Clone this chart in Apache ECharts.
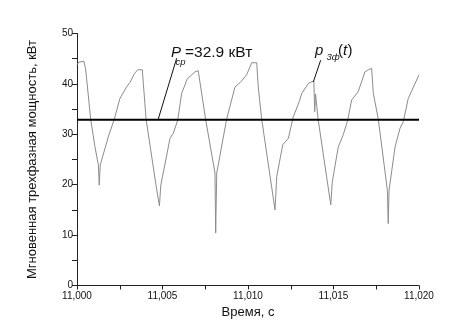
<!DOCTYPE html>
<html>
<head>
<meta charset="utf-8">
<script src="https://cdn.jsdelivr.net/npm/echarts@6/dist/echarts.min.js"></script>
<style>
  html, body { margin: 0; padding: 0; background: #fff; }
  #chart { width: 454px; height: 329px; }
</style>
</head>
<body>
<div id="chart"></div>
<script>
// Instantaneous three-phase power, sampled time (s) and value (kW)
var timeS = [
  11000.00, 11000.10, 11000.20, 11000.40, 11000.50, 11000.57, 11000.80, 11001.05, 11001.25, 11001.30,
  11001.36, 11001.42, 11001.83, 11002.18, 11002.51, 11002.90, 11003.10, 11003.35, 11003.55, 11003.82,
  11003.88, 11003.92, 11004.04, 11004.62, 11004.82, 11004.90, 11005.44, 11005.63, 11005.89, 11006.12,
  11006.45, 11006.90, 11007.09, 11007.19, 11007.52, 11008.07, 11008.11, 11008.17, 11008.75, 11009.24,
  11009.55, 11009.92, 11010.22, 11010.51, 11010.60, 11010.80, 11011.58, 11011.68, 11012.03, 11012.36,
  11012.65, 11013.00, 11013.14, 11013.53, 11013.85, 11013.90, 11013.95, 11014.10, 11014.84, 11014.93,
  11015.28, 11015.57, 11015.83, 11016.06, 11016.45, 11016.84, 11017.04, 11017.23, 11017.33, 11017.62,
  11018.15, 11018.20, 11018.25, 11018.60, 11018.89, 11019.08, 11019.37, 11020.00
];
var powerKW = [
  43.8, 44.3, 44.6, 44.5, 43.0, 40.8, 33.0, 27.5, 23.9, 19.9,
  23.9, 24.1, 29.5, 33.0, 37.1, 39.4, 40.3, 42.0, 42.8, 42.8,
  40.0, 38.3, 33.0, 19.9, 15.8, 19.9, 29.2, 30.2, 32.8, 38.1,
  41.0, 42.4, 42.6, 42.4, 33.0, 22.3, 10.4, 22.3, 33.0, 39.4,
  40.3, 41.8, 44.2, 44.2, 39.4, 33.0, 15.0, 21.6, 27.9, 29.2,
  33.5, 36.5, 38.1, 40.1, 40.6, 34.5, 38.0, 33.0, 16.0, 20.6,
  27.5, 29.9, 32.8, 36.8, 38.5, 42.4, 42.8, 43.1, 38.1, 33.0,
  18.9, 12.3, 18.9, 27.5, 31.2, 32.5, 37.1, 41.8
];

// Mean power level
var meanPower = 32.9;
var timeRange = [11000, 11020];

// Leader lines from the labels to the curves (time, kW)
var meanLeader = [[11005.83, 45.1], [11004.75, 33.0]];
var curveLeader = [[11014.25, 44.7], [11013.82, 40.4]];

var FONT = 'Liberation Sans, Arial, sans-serif';

function thousands(v) {
  return String(Math.round(v)).replace(/\B(?=(\d{3})+(?!\d))/g, ',');
}

var chart = echarts.init(document.getElementById('chart'), null, { renderer: 'canvas' });

var curve = timeS.map(function (t, i) { return [t, powerKW[i]]; });

chart.setOption({
  animation: false,
  backgroundColor: '#ffffff',
  grid: { left: 77, right: 35, top: 33.5, bottom: 43.5 },
  xAxis: {
    type: 'value',
    min: timeRange[0],
    max: timeRange[1],
    interval: 5,
    name: 'Время, с',
    nameLocation: 'middle',
    nameGap: 19,
    nameTextStyle: { fontFamily: FONT, fontSize: 13, color: '#111' },
    axisLine: { onZero: false, lineStyle: { color: '#222', width: 1 } },
    axisTick: { show: true, length: 4, lineStyle: { color: '#222' } },
    minorTick: { show: true, splitNumber: 2, length: 4, lineStyle: { color: '#222' } },
    splitLine: { show: false },
    axisLabel: { fontFamily: FONT, fontSize: 10, color: '#111', margin: 6, formatter: thousands }
  },
  yAxis: {
    type: 'value',
    min: 0,
    max: 50,
    interval: 10,
    name: 'Мгновенная трехфазная мощность, кВт',
    nameLocation: 'middle',
    nameGap: 38,
    nameTextStyle: { fontFamily: FONT, fontSize: 13, color: '#111' },
    axisLine: { show: true, lineStyle: { color: '#222', width: 1 } },
    axisTick: { show: true, length: 5, lineStyle: { color: '#222' } },
    minorTick: { show: true, splitNumber: 2, length: 5, lineStyle: { color: '#222' } },
    splitLine: { show: false },
    axisLabel: { fontFamily: FONT, fontSize: 10, color: '#111', margin: 4 }
  },
  series: [
    {
      type: 'line',
      data: curve,
      showSymbol: false,
      lineStyle: { color: '#8c8c8c', width: 1 },
      z: 2
    },
    {
      type: 'line',
      data: [[timeRange[0], meanPower], [timeRange[1], meanPower]],
      showSymbol: false,
      lineStyle: { color: '#000', width: 2 },
      z: 3
    },
    {
      type: 'line',
      data: meanLeader,
      showSymbol: false,
      lineStyle: { color: '#111', width: 1 },
      z: 4
    },
    {
      type: 'line',
      data: curveLeader,
      showSymbol: false,
      lineStyle: { color: '#111', width: 1 },
      z: 4
    }
  ],
  graphic: [
    { type: 'text', left: 171, top: 45, style: { text: 'P', fontFamily: FONT, fontSize: 15, fontStyle: 'italic', fill: '#111' } },
    { type: 'text', left: 175.5, top: 57, style: { text: 'ср', fontFamily: FONT, fontSize: 9.5, fontStyle: 'italic', fill: '#111' } },
    { type: 'text', left: 185, top: 45, style: { text: '=32.9 кВт', fontFamily: FONT, fontSize: 15.5, fill: '#111' } },
    { type: 'text', left: 315, top: 43, style: { text: 'p', fontFamily: FONT, fontSize: 15, fontStyle: 'italic', fill: '#111' } },
    { type: 'text', left: 326.5, top: 52, style: { text: '3ф', fontFamily: FONT, fontSize: 9.5, fontStyle: 'italic', fill: '#111' } },
    { type: 'text', left: 338, top: 43, style: { text: '(', fontFamily: FONT, fontSize: 15, fill: '#111' } },
    { type: 'text', left: 343, top: 43, style: { text: 't', fontFamily: FONT, fontSize: 15, fontStyle: 'italic', fill: '#111' } },
    { type: 'text', left: 347.5, top: 43, style: { text: ')', fontFamily: FONT, fontSize: 15, fill: '#111' } }
  ]
});
</script>
</body>
</html>
